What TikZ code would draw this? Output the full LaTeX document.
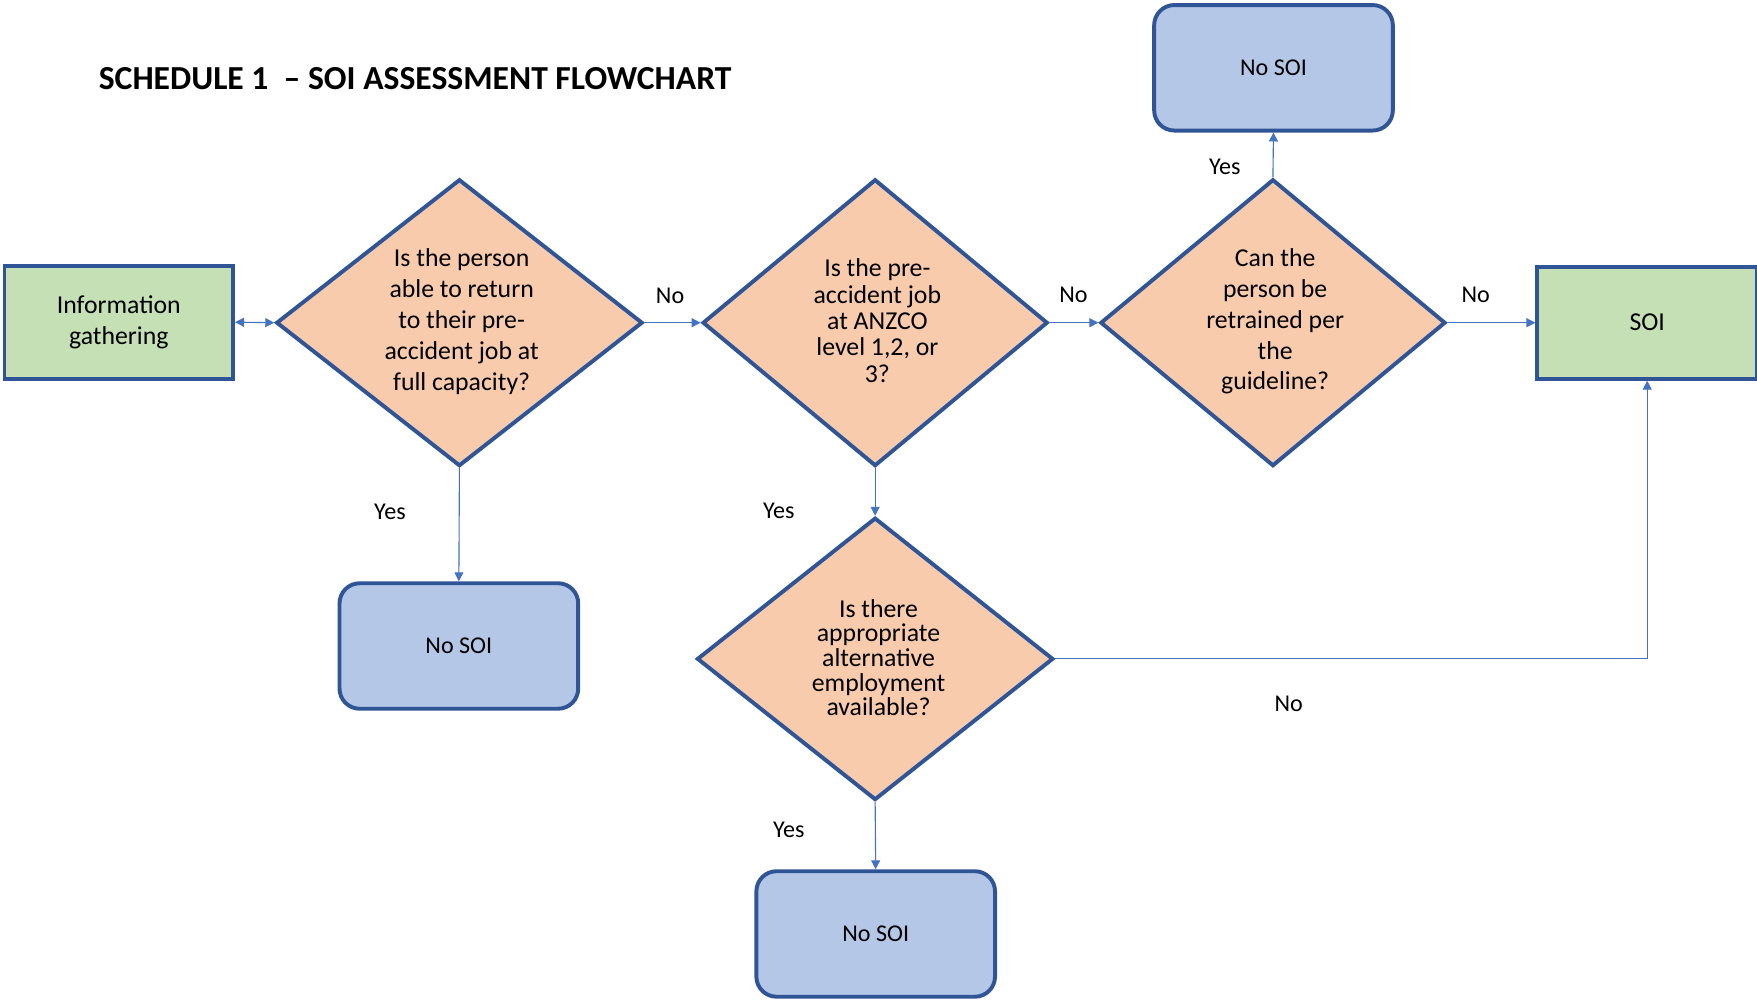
\documentclass[tikz,border=0pt]{standalone}
\usepackage{fontspec}
\setmainfont{Carlito}
\usetikzlibrary{shapes.geometric,arrows.meta}
\definecolor{bordblue}{HTML}{2F5597}
\definecolor{linkblue}{HTML}{4472C4}
\definecolor{boxgreen}{HTML}{C5E0B4}
\definecolor{boxblue}{HTML}{B4C7E7}
\definecolor{diaorange}{HTML}{F8CBAD}
\tikzset{
  greenbox/.style={draw=bordblue, line width=3.5pt, fill=boxgreen, inner sep=0pt, font=\fontsize{23}{27.5}\selectfont, align=center},
  endbox/.style={draw=bordblue, line width=3.5pt, fill=boxblue, rounded corners=18pt, inner sep=0pt, minimum width=213pt, minimum height=112pt, font=\fontsize{21.5}{26}\selectfont},
  decision/.style={diamond, draw=bordblue, line width=3.5pt, fill=diaorange, inner sep=0pt, aspect=1.28},
  qtext/.style={font=\fontsize{23}{27.5}\selectfont, align=center, inner sep=0pt},
  lbl/.style={font=\fontsize{21.5}{24}\selectfont, inner sep=0pt},
  link/.style={draw=linkblue, line width=1pt, -{Triangle[length=8pt,width=8pt]}},
}
\begin{document}
\begin{tikzpicture}[x=1pt,y=-1pt]
\useasboundingbox (0,0) rectangle (1568,894);
% title
\node[anchor=west, inner sep=0pt, font=\fontsize{30}{33}\selectfont\bfseries] (title) at (88,70) {SCHEDULE 1\ \ -- SOI ASSESSMENT FLOWCHART};
% boxes
\node[greenbox, minimum width=204pt, minimum height=101pt] (info) at (106,287.5) {Information\\gathering};
\node[greenbox, minimum width=196pt, minimum height=100pt] (soi) at (1470,288) {SOI};
\node[endbox] (nosoiT) at (1136.5,60.5) {No SOI};
\node[endbox] (nosoiL) at (409.5,576.5) {No SOI};
\node[endbox] (nosoiB) at (781.5,833.5) {No SOI};
% decisions
\node[decision, minimum width=327pt, minimum height=256pt] (d1) at (410,288) {};
\node[decision, minimum width=308pt, minimum height=256pt] (d2) at (781,288) {};
\node[decision, minimum width=308pt, minimum height=256pt] (d3) at (1136,288) {};
\node[decision, minimum width=318pt, minimum height=252pt] (d4) at (781,588) {};
\node[qtext] (t1) at (412,287) {Is the person\\able to return\\to their pre-\\accident job at\\full capacity?};
\node[qtext, font=\fontsize{23}{23.5}\selectfont] (t2) at (783,286) {Is the pre-\\accident job\\at ANZCO\\level 1,2, or\\3?};
\node[qtext] (t3) at (1138,287) {Can the\\person be\\retrained per\\the\\guideline?};
\node[qtext, font=\fontsize{23}{22}\selectfont] (t4) at (784,587) {Is there\\appropriate\\alternative\\employment\\available?};
% connectors
\draw[link, {Triangle[length=8pt,width=8pt]}-{Triangle[length=8pt,width=8pt]}] (info.east) -- (d1.west);
\draw[link] (d1.east) -- (d2.west);
\draw[link] (d2.east) -- (d3.west);
\draw[link] (d3.east) -- (soi.west);
\draw[link] (d3.north) -- (nosoiT.south);
\draw[link] (d1.south) -- (nosoiL.north);
\draw[link] (d2.south) -- (d4.north);
\draw[link] (d4.south) -- (nosoiB.north);
\draw[link] (d4.east) -| (soi.south);
% labels
\node[lbl] (n1) at (598,264) {No};
\node[lbl] (n2) at (958,263) {No};
\node[lbl] (n3) at (1317,263) {No};
\node[lbl] (n4) at (1150,628) {No};
\node[lbl] (y1) at (1093,149) {Yes};
\node[lbl] (y2) at (348,457) {Yes};
\node[lbl] (y3) at (695,456) {Yes};
\node[lbl] (y4) at (704,741) {Yes};
\end{tikzpicture}
\end{document}
